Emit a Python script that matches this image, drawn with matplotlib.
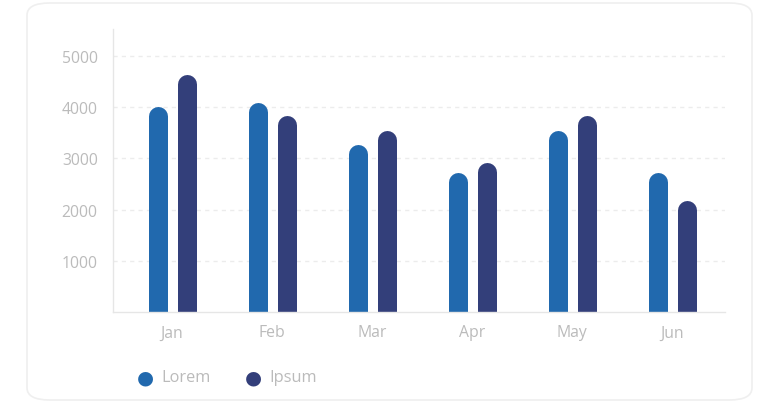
import matplotlib.pyplot as plt
from matplotlib.patches import FancyBboxPatch
import numpy as np

plt.rcParams['font.family'] = ['Open Sans', 'DejaVu Sans']

months = ['Jan', 'Feb', 'Mar', 'Apr', 'May', 'Jun']
lorem = [4020, 4100, 3280, 2730, 3550, 2730]
ipsum = [4650, 3830, 3550, 2930, 3830, 2170]
yticks = [1000, 2000, 3000, 4000, 5000]

c_lorem = '#2169ae'
c_ipsum = '#333f7a'
c_text = '#bbbbbb'
c_grid = '#ececec'

W, H = 761, 406
fig = plt.figure(figsize=(W / 100, H / 100), dpi=100)

# card background
card = FancyBboxPatch((27 / W, 5 / H), 725 / W, 397 / H,
                      boxstyle='round,pad=0,rounding_size=0.03',
                      transform=fig.transFigure, facecolor='white',
                      edgecolor='#efefef', linewidth=1.2, zorder=0)
fig.patches.append(card)

ax_l, ax_r, ax_b, ax_t = 113, 725, 313, 30
ax = fig.add_axes([ax_l / W, 1 - ax_b / H, (ax_r - ax_l) / W, (ax_b - ax_t) / H])
ax.set_zorder(2)
ax.set_facecolor('none')
ymax = 5530
ax.set_ylim(0, ymax)
ax.set_xlim(-0.59, 5.53)

x = np.arange(len(months))
bar_px = 19
off = 0.145
px_per_unit = (ax_b - ax_t) / ymax
cap = (bar_px / 2) / px_per_unit
lw = bar_px * 72 / 100

# bars with rounded tops
for xi, v in zip(x - off, lorem):
    ax.plot([xi, xi], [-cap * 2, v - cap], color=c_lorem, lw=lw,
            solid_capstyle='round', zorder=3)
for xi, v in zip(x + off, ipsum):
    ax.plot([xi, xi], [-cap * 2, v - cap], color=c_ipsum, lw=lw,
            solid_capstyle='round', zorder=3)

for y in yticks:
    ax.axhline(y, color=c_grid, lw=1, ls=(0, (3, 3)), zorder=1)

for s in ['top', 'right']:
    ax.spines[s].set_visible(False)
for s in ['left', 'bottom']:
    ax.spines[s].set_color('#e6e6e6')
    ax.spines[s].set_linewidth(1)
    ax.spines[s].set_zorder(4)

ax.set_yticks(yticks)
ax.set_yticklabels([str(t) for t in yticks])
ax.set_xticks(x)
ax.set_xticklabels(months)
ax.tick_params(length=0, colors=c_text, labelsize=11.3)
ax.tick_params(axis='y', pad=11)
ax.tick_params(axis='x', pad=9)

# legend
for lx, name, col in [(145, 'Lorem', c_lorem), (253, 'Ipsum', c_ipsum)]:
    fig.text(lx / W, 1 - 378 / H, '\u25cf', color=col, fontsize=14,
             ha='center', va='center', family='DejaVu Sans')
    fig.text((lx + 16) / W, 1 - 378 / H, name, color=c_text, fontsize=11.8,
             ha='left', va='center')

fig.savefig('out.png', dpi=100)
